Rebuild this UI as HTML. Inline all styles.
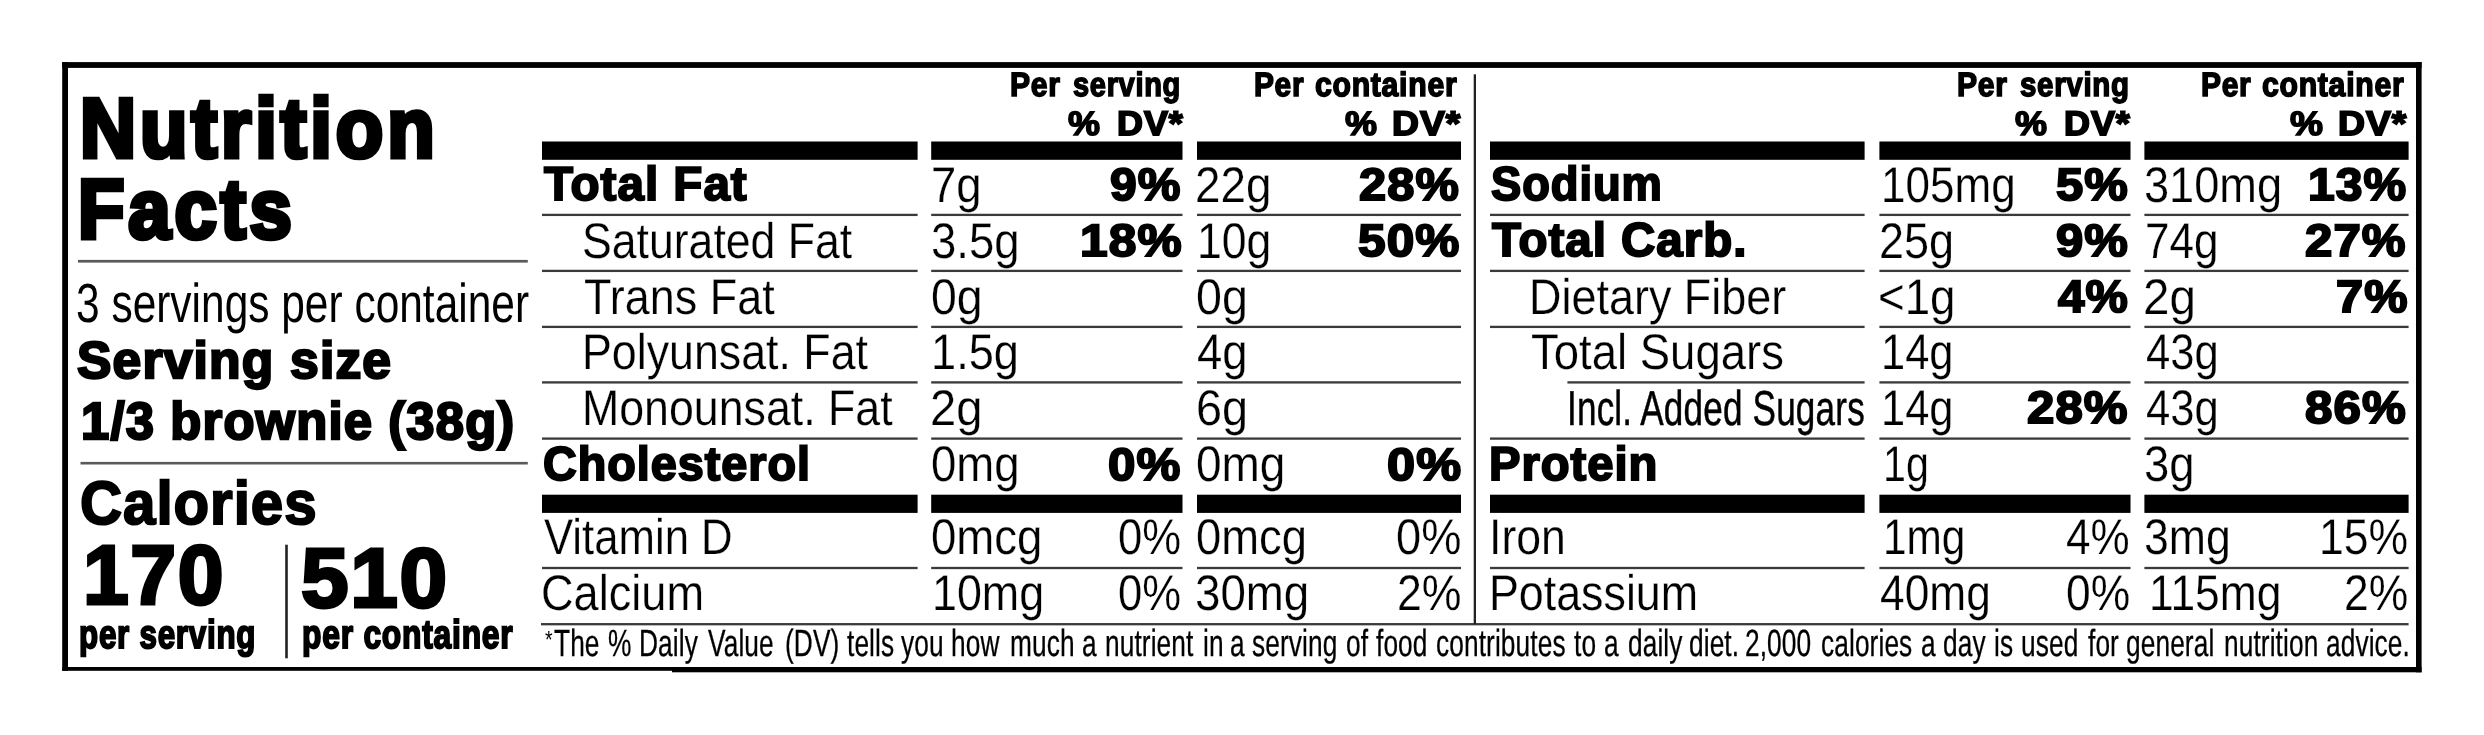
<!DOCTYPE html><html><head><meta charset="utf-8"><title>Nutrition Facts</title><style>
html,body{margin:0;padding:0;background:#fff;}
body{width:2484px;height:735px;position:relative;overflow:hidden;font-family:"Liberation Sans",sans-serif;color:#000;}
.t{position:absolute;white-space:pre;line-height:1;transform-origin:0 0;letter-spacing:0;text-rendering:geometricPrecision;}
.r{position:absolute;}
body{will-change:transform}
.L{font-size:50.08px;font-weight:400;-webkit-text-stroke:0.25px #fff;}
.K{font-size:47.66px;font-weight:700;-webkit-text-stroke:2.0px #000;letter-spacing:1.00px;}
.KP{font-size:45.36px;font-weight:700;-webkit-text-stroke:2.0px #000;letter-spacing:1.00px;}
.T{font-size:83.88px;font-weight:700;-webkit-text-stroke:5.0px #000;letter-spacing:4.20px;}
.S{font-size:55.0px;font-weight:400;}
.SS{font-size:51.86px;font-weight:700;-webkit-text-stroke:2.4px #000;letter-spacing:1.20px;}
.SB{font-size:52.36px;font-weight:700;-webkit-text-stroke:2.4px #000;letter-spacing:1.20px;}
.C{font-size:61.09px;font-weight:700;-webkit-text-stroke:2.0px #000;letter-spacing:1.00px;}
.N{font-size:84.06px;font-weight:700;-webkit-text-stroke:3.2px #000;letter-spacing:1.60px;}
.P{font-size:40.18px;font-weight:700;-webkit-text-stroke:2.0px #000;letter-spacing:1.00px;}
.H{font-size:33.78px;font-weight:700;-webkit-text-stroke:1.6px #000;letter-spacing:0.80px;}
.HK{font-size:34.33px;font-weight:700;-webkit-text-stroke:1.8px #000;letter-spacing:0.90px;}
.F{font-size:37.8px;font-weight:400;-webkit-text-stroke:0.3px #000;letter-spacing:0.15px;}
.FA{font-size:24.86px;font-weight:400;}
.LI{font-size:49.0px;font-weight:400;-webkit-text-stroke:0.5px #000;letter-spacing:0.25px;}
</style></head><body>
<svg class="r" style="left:0;top:0" width="2484" height="735" viewBox="0 0 2484 735">
<rect x="62.20" y="62.10" width="2359.40" height="5.80" fill="#000"/>
<rect x="62.20" y="62.10" width="5.80" height="608.70" fill="#000"/>
<rect x="2416.00" y="62.10" width="5.60" height="610.20" fill="#000"/>
<rect x="62.20" y="667.00" width="611.80" height="3.80" fill="#000"/>
<rect x="672.00" y="667.00" width="1749.60" height="5.30" fill="#000"/>
<rect x="542.00" y="141.50" width="375.60" height="18.30" fill="#000"/>
<rect x="542.00" y="494.70" width="375.60" height="18.20" fill="#000"/>
<rect x="542.00" y="213.75" width="375.60" height="2.30" fill="#3a3a3a"/>
<rect x="542.00" y="269.75" width="375.60" height="2.30" fill="#3a3a3a"/>
<rect x="542.00" y="325.75" width="375.60" height="2.30" fill="#3a3a3a"/>
<rect x="542.00" y="381.25" width="375.60" height="2.30" fill="#3a3a3a"/>
<rect x="542.00" y="437.45" width="375.60" height="2.30" fill="#3a3a3a"/>
<rect x="542.00" y="566.85" width="375.60" height="2.30" fill="#3a3a3a"/>
<rect x="931.20" y="141.50" width="251.30" height="18.30" fill="#000"/>
<rect x="931.20" y="494.70" width="251.30" height="18.20" fill="#000"/>
<rect x="931.20" y="213.75" width="251.30" height="2.30" fill="#3a3a3a"/>
<rect x="931.20" y="269.75" width="251.30" height="2.30" fill="#3a3a3a"/>
<rect x="931.20" y="325.75" width="251.30" height="2.30" fill="#3a3a3a"/>
<rect x="931.20" y="381.25" width="251.30" height="2.30" fill="#3a3a3a"/>
<rect x="931.20" y="437.45" width="251.30" height="2.30" fill="#3a3a3a"/>
<rect x="931.20" y="566.85" width="251.30" height="2.30" fill="#3a3a3a"/>
<rect x="1197.00" y="141.50" width="264.00" height="18.30" fill="#000"/>
<rect x="1197.00" y="494.70" width="264.00" height="18.20" fill="#000"/>
<rect x="1197.00" y="213.75" width="264.00" height="2.30" fill="#3a3a3a"/>
<rect x="1197.00" y="269.75" width="264.00" height="2.30" fill="#3a3a3a"/>
<rect x="1197.00" y="325.75" width="264.00" height="2.30" fill="#3a3a3a"/>
<rect x="1197.00" y="381.25" width="264.00" height="2.30" fill="#3a3a3a"/>
<rect x="1197.00" y="437.45" width="264.00" height="2.30" fill="#3a3a3a"/>
<rect x="1197.00" y="566.85" width="264.00" height="2.30" fill="#3a3a3a"/>
<rect x="1490.00" y="141.50" width="374.60" height="18.30" fill="#000"/>
<rect x="1490.00" y="494.70" width="374.60" height="18.20" fill="#000"/>
<rect x="1490.00" y="213.75" width="374.60" height="2.30" fill="#3a3a3a"/>
<rect x="1490.00" y="269.75" width="374.60" height="2.30" fill="#3a3a3a"/>
<rect x="1490.00" y="325.75" width="374.60" height="2.30" fill="#3a3a3a"/>
<rect x="1567.40" y="381.25" width="297.20" height="2.30" fill="#3a3a3a"/>
<rect x="1490.00" y="437.45" width="374.60" height="2.30" fill="#3a3a3a"/>
<rect x="1490.00" y="566.85" width="374.60" height="2.30" fill="#3a3a3a"/>
<rect x="1879.40" y="141.50" width="251.10" height="18.30" fill="#000"/>
<rect x="1879.40" y="494.70" width="251.10" height="18.20" fill="#000"/>
<rect x="1879.40" y="213.75" width="251.10" height="2.30" fill="#3a3a3a"/>
<rect x="1879.40" y="269.75" width="251.10" height="2.30" fill="#3a3a3a"/>
<rect x="1879.40" y="325.75" width="251.10" height="2.30" fill="#3a3a3a"/>
<rect x="1879.40" y="381.25" width="251.10" height="2.30" fill="#3a3a3a"/>
<rect x="1879.40" y="437.45" width="251.10" height="2.30" fill="#3a3a3a"/>
<rect x="1879.40" y="566.85" width="251.10" height="2.30" fill="#3a3a3a"/>
<rect x="2144.40" y="141.50" width="264.20" height="18.30" fill="#000"/>
<rect x="2144.40" y="494.70" width="264.20" height="18.20" fill="#000"/>
<rect x="2144.40" y="213.75" width="264.20" height="2.30" fill="#3a3a3a"/>
<rect x="2144.40" y="269.75" width="264.20" height="2.30" fill="#3a3a3a"/>
<rect x="2144.40" y="325.75" width="264.20" height="2.30" fill="#3a3a3a"/>
<rect x="2144.40" y="381.25" width="264.20" height="2.30" fill="#3a3a3a"/>
<rect x="2144.40" y="437.45" width="264.20" height="2.30" fill="#3a3a3a"/>
<rect x="2144.40" y="566.85" width="264.20" height="2.30" fill="#3a3a3a"/>
<rect x="541.00" y="623.05" width="1867.60" height="2.30" fill="#3a3a3a"/>
<rect x="1473.70" y="74.30" width="2.30" height="549.90" fill="#222"/>
<rect x="78.00" y="259.90" width="449.80" height="2.70" fill="#5a5a5a"/>
<rect x="80.50" y="461.90" width="447.30" height="2.60" fill="#5a5a5a"/>
<rect x="285.20" y="544.70" width="2.60" height="113.60" fill="#222"/>
</svg>
<span class="t T" style="left:79.63px;top:87.00px;transform:scale(0.9258,1.0000)">Nutrition</span>
<span class="t T" style="left:77.88px;top:168.00px;transform:scale(0.9068,1.0000)">Facts</span>
<span class="t S" style="left:75.73px;top:276.00px;transform:scale(0.7718,1.0000)">3 servings per container</span>
<span class="t SS" style="left:77.10px;top:335.00px;transform:scale(0.9943,1.0000)">Serving size</span>
<span class="t SB" style="left:81.30px;top:396.00px;transform:scale(0.9694,1.0000)">1/3 brownie (38g)</span>
<span class="t C" style="left:80.00px;top:473.00px;transform:scale(0.9539,1.0000)">Calories</span>
<span class="t N" style="left:83.38px;top:533.00px;transform:scale(0.9793,1.0000)">170</span>
<span class="t N" style="left:301.39px;top:536.00px;transform:scale(1.0186,1.0000)">510</span>
<span class="t P" style="left:78.50px;top:615.00px;transform:scale(0.7789,1.0000)">per serving</span>
<span class="t P" style="left:301.50px;top:615.00px;transform:scale(0.7906,1.0000)">per container</span>
<span class="t K" style="left:544.46px;top:161.00px;transform:scale(0.9984,1.0000)">Total Fat</span>
<span class="t L" style="left:931.47px;top:160.00px;transform:scale(0.9085,1.0000)">7g</span>
<span class="t KP" style="left:1110.36px;top:162.00px;transform:scale(1.0574,1.0000)">9%</span>
<span class="t L" style="left:1195.49px;top:160.00px;transform:scale(0.9141,1.0000)">22g</span>
<span class="t KP" style="left:1359.38px;top:162.00px;transform:scale(1.0751,1.0000)">28%</span>
<span class="t L" style="left:582.48px;top:216.00px;transform:scale(0.8907,1.0000)">Saturated Fat</span>
<span class="t L" style="left:930.68px;top:216.00px;transform:scale(0.9080,1.0000)">3.5g</span>
<span class="t KP" style="left:1079.60px;top:218.00px;transform:scale(1.0951,1.0000)">18%</span>
<span class="t L" style="left:1197.13px;top:216.00px;transform:scale(0.8893,1.0000)">10g</span>
<span class="t KP" style="left:1357.60px;top:218.00px;transform:scale(1.0925,1.0000)">50%</span>
<span class="t L" style="left:583.50px;top:272.00px;transform:scale(0.8974,1.0000)">Trans Fat</span>
<span class="t L" style="left:930.73px;top:272.00px;transform:scale(0.9268,1.0000)">0g</span>
<span class="t L" style="left:1195.92px;top:272.00px;transform:scale(0.9306,1.0000)">0g</span>
<span class="t L" style="left:581.73px;top:327.00px;transform:scale(0.8933,1.0000)">Polyunsat. Fat</span>
<span class="t L" style="left:931.39px;top:327.00px;transform:scale(0.9028,1.0000)">1.5g</span>
<span class="t L" style="left:1197.40px;top:327.00px;transform:scale(0.9072,1.0000)">4g</span>
<span class="t L" style="left:582.24px;top:383.00px;transform:scale(0.8928,1.0000)">Monounsat. Fat</span>
<span class="t L" style="left:930.04px;top:383.00px;transform:scale(0.9420,1.0000)">2g</span>
<span class="t L" style="left:1195.82px;top:383.00px;transform:scale(0.9355,1.0000)">6g</span>
<span class="t K" style="left:542.75px;top:441.00px;transform:scale(0.9810,1.0000)">Cholesterol</span>
<span class="t L" style="left:930.76px;top:439.00px;transform:scale(0.9087,1.0000)">0mg</span>
<span class="t KP" style="left:1108.33px;top:442.00px;transform:scale(1.0865,1.0000)">0%</span>
<span class="t L" style="left:1195.94px;top:439.00px;transform:scale(0.9180,1.0000)">0mg</span>
<span class="t KP" style="left:1386.61px;top:442.00px;transform:scale(1.1112,1.0000)">0%</span>
<span class="t L" style="left:544.30px;top:512.00px;transform:scale(0.8727,1.0000)">Vitamin D</span>
<span class="t L" style="left:930.75px;top:512.00px;transform:scale(0.9099,1.0000)">0mcg</span>
<span class="t L" style="left:1118.21px;top:512.00px;transform:scale(0.8712,1.0000)">0%</span>
<span class="t L" style="left:1195.96px;top:512.00px;transform:scale(0.9061,1.0000)">0mcg</span>
<span class="t L" style="left:1396.46px;top:512.00px;transform:scale(0.9024,1.0000)">0%</span>
<span class="t L" style="left:541.18px;top:568.00px;transform:scale(0.9016,1.0000)">Calcium</span>
<span class="t L" style="left:932.01px;top:568.00px;transform:scale(0.8952,1.0000)">10mg</span>
<span class="t L" style="left:1118.21px;top:568.00px;transform:scale(0.8712,1.0000)">0%</span>
<span class="t L" style="left:1194.97px;top:568.00px;transform:scale(0.9123,1.0000)">30mg</span>
<span class="t L" style="left:1396.90px;top:568.00px;transform:scale(0.8916,1.0000)">2%</span>
<span class="t K" style="left:1490.50px;top:161.00px;transform:scale(0.9509,1.0000)">Sodium</span>
<span class="t L" style="left:1881.46px;top:160.00px;transform:scale(0.8792,1.0000)">105mg</span>
<span class="t KP" style="left:2056.00px;top:162.00px;transform:scale(1.0789,1.0000)">5%</span>
<span class="t L" style="left:2143.58px;top:160.00px;transform:scale(0.9020,1.0000)">310mg</span>
<span class="t KP" style="left:2308.04px;top:162.00px;transform:scale(1.0580,1.0000)">13%</span>
<span class="t K" style="left:1491.86px;top:217.00px;transform:scale(0.9964,1.0000)">Total Carb.</span>
<span class="t L" style="left:1878.70px;top:216.00px;transform:scale(0.8981,1.0000)">25g</span>
<span class="t KP" style="left:2056.34px;top:218.00px;transform:scale(1.0796,1.0000)">9%</span>
<span class="t L" style="left:2144.90px;top:216.00px;transform:scale(0.8796,1.0000)">74g</span>
<span class="t KP" style="left:2304.87px;top:218.00px;transform:scale(1.0837,1.0000)">27%</span>
<span class="t L" style="left:1528.62px;top:272.00px;transform:scale(0.8976,1.0000)">Dietary Fiber</span>
<span class="t L" style="left:1877.60px;top:272.00px;transform:scale(0.9119,1.0000)">&lt;1g</span>
<span class="t KP" style="left:2058.33px;top:274.00px;transform:scale(1.0493,1.0000)">4%</span>
<span class="t L" style="left:2142.82px;top:272.00px;transform:scale(0.9502,1.0000)">2g</span>
<span class="t KP" style="left:2336.00px;top:274.00px;transform:scale(1.0735,1.0000)">7%</span>
<span class="t L" style="left:1530.50px;top:327.00px;transform:scale(0.9086,1.0000)">Total Sugars</span>
<span class="t L" style="left:1880.99px;top:327.00px;transform:scale(0.8676,1.0000)">14g</span>
<span class="t L" style="left:2145.90px;top:327.00px;transform:scale(0.8713,1.0000)">43g</span>
<span class="t LI" style="left:1566.80px;top:385.00px;transform:scale(0.7163,1.0000)">Incl. Added Sugars</span>
<span class="t L" style="left:1880.99px;top:383.00px;transform:scale(0.8676,1.0000)">14g</span>
<span class="t KP" style="left:2027.37px;top:385.00px;transform:scale(1.0833,1.0000)">28%</span>
<span class="t L" style="left:2145.90px;top:383.00px;transform:scale(0.8713,1.0000)">43g</span>
<span class="t KP" style="left:2304.98px;top:385.00px;transform:scale(1.0854,1.0000)">86%</span>
<span class="t K" style="left:1489.40px;top:441.00px;transform:scale(0.9898,1.0000)">Protein</span>
<span class="t L" style="left:1882.60px;top:439.00px;transform:scale(0.8237,1.0000)">1g</span>
<span class="t L" style="left:2144.08px;top:439.00px;transform:scale(0.9059,1.0000)">3g</span>
<span class="t L" style="left:1488.60px;top:512.00px;transform:scale(0.8902,1.0000)">Iron</span>
<span class="t L" style="left:1882.60px;top:512.00px;transform:scale(0.8459,1.0000)">1mg</span>
<span class="t L" style="left:2066.00px;top:512.00px;transform:scale(0.8785,1.0000)">4%</span>
<span class="t L" style="left:2144.09px;top:512.00px;transform:scale(0.8908,1.0000)">3mg</span>
<span class="t L" style="left:2319.03px;top:512.00px;transform:scale(0.8887,1.0000)">15%</span>
<span class="t L" style="left:1488.83px;top:568.00px;transform:scale(0.8941,1.0000)">Potassium</span>
<span class="t L" style="left:1880.20px;top:568.00px;transform:scale(0.8842,1.0000)">40mg</span>
<span class="t L" style="left:2065.68px;top:568.00px;transform:scale(0.8860,1.0000)">0%</span>
<span class="t L" style="left:2149.24px;top:568.00px;transform:scale(0.8860,1.0000)">115mg</span>
<span class="t L" style="left:2343.90px;top:568.00px;transform:scale(0.8866,1.0000)">2%</span>
<span class="t H" style="left:1010.00px;top:69.00px;transform:scale(0.8911,1.0000)">Per</span>
<span class="t H" style="left:1073.30px;top:69.00px;transform:scale(0.8591,1.0000)">serving</span>
<span class="t H" style="left:1068.00px;top:108.00px;transform:scale(1.0667,1.0000)">%</span>
<span class="t HK" style="left:1117.40px;top:107.00px;transform:scale(1.0476,1.0000)">DV*</span>
<span class="t H" style="left:1254.20px;top:69.00px;transform:scale(0.8842,1.0000)">Per</span>
<span class="t H" style="left:1315.09px;top:69.00px;transform:scale(0.8944,1.0000)">container</span>
<span class="t H" style="left:1345.00px;top:108.00px;transform:scale(1.0667,1.0000)">%</span>
<span class="t HK" style="left:1391.67px;top:107.00px;transform:scale(1.0858,1.0000)">DV*</span>
<span class="t H" style="left:1956.50px;top:69.00px;transform:scale(0.8911,1.0000)">Per</span>
<span class="t H" style="left:2019.80px;top:69.00px;transform:scale(0.8729,1.0000)">serving</span>
<span class="t H" style="left:2015.00px;top:108.00px;transform:scale(1.0667,1.0000)">%</span>
<span class="t HK" style="left:2064.00px;top:107.00px;transform:scale(1.0476,1.0000)">DV*</span>
<span class="t H" style="left:2201.00px;top:69.00px;transform:scale(0.8868,1.0000)">Per</span>
<span class="t H" style="left:2261.79px;top:69.00px;transform:scale(0.8946,1.0000)">container</span>
<span class="t H" style="left:2290.00px;top:108.00px;transform:scale(1.1000,1.0000)">%</span>
<span class="t HK" style="left:2337.97px;top:107.00px;transform:scale(1.0885,1.0000)">DV*</span>
<span class="t F" style="left:554.15px;top:626.00px;transform:scale(0.6949,1.0000)">The</span>
<span class="t F" style="left:607.78px;top:626.00px;transform:scale(0.6949,1.0000)">%</span>
<span class="t F" style="left:639.45px;top:626.00px;transform:scale(0.6949,1.0000)">Daily</span>
<span class="t F" style="left:707.90px;top:626.00px;transform:scale(0.6949,1.0000)">Value</span>
<span class="t F" style="left:785.44px;top:626.00px;transform:scale(0.6949,1.0000)">(DV)</span>
<span class="t F" style="left:846.59px;top:626.00px;transform:scale(0.6949,1.0000)">tells</span>
<span class="t F" style="left:901.46px;top:626.00px;transform:scale(0.6949,1.0000)">you</span>
<span class="t F" style="left:950.88px;top:626.00px;transform:scale(0.6949,1.0000)">how</span>
<span class="t F" style="left:1009.60px;top:626.00px;transform:scale(0.6949,1.0000)">much</span>
<span class="t F" style="left:1082.35px;top:626.00px;transform:scale(0.6949,1.0000)">a</span>
<span class="t F" style="left:1105.41px;top:626.00px;transform:scale(0.6949,1.0000)">nutrient</span>
<span class="t F" style="left:1202.51px;top:626.00px;transform:scale(0.6949,1.0000)">in</span>
<span class="t F" style="left:1230.25px;top:626.00px;transform:scale(0.6949,1.0000)">a</span>
<span class="t F" style="left:1252.35px;top:626.00px;transform:scale(0.6949,1.0000)">serving</span>
<span class="t F" style="left:1346.06px;top:626.00px;transform:scale(0.6949,1.0000)">of</span>
<span class="t F" style="left:1375.80px;top:626.00px;transform:scale(0.6949,1.0000)">food</span>
<span class="t F" style="left:1435.60px;top:626.00px;transform:scale(0.6949,1.0000)">contributes</span>
<span class="t F" style="left:1573.71px;top:626.00px;transform:scale(0.6949,1.0000)">to</span>
<span class="t F" style="left:1603.75px;top:626.00px;transform:scale(0.6949,1.0000)">a</span>
<span class="t F" style="left:1627.73px;top:626.00px;transform:scale(0.6949,1.0000)">daily</span>
<span class="t F" style="left:1689.20px;top:626.00px;transform:scale(0.6949,1.0000)">diet.</span>
<span class="t F" style="left:1745.48px;top:626.00px;transform:scale(0.6949,1.0000)">2,000</span>
<span class="t F" style="left:1820.94px;top:626.00px;transform:scale(0.6949,1.0000)">calories</span>
<span class="t F" style="left:1921.00px;top:626.00px;transform:scale(0.6949,1.0000)">a</span>
<span class="t F" style="left:1943.20px;top:626.00px;transform:scale(0.6949,1.0000)">day</span>
<span class="t F" style="left:1994.15px;top:626.00px;transform:scale(0.6949,1.0000)">is</span>
<span class="t F" style="left:2020.69px;top:626.00px;transform:scale(0.6949,1.0000)">used</span>
<span class="t F" style="left:2087.51px;top:626.00px;transform:scale(0.6949,1.0000)">for</span>
<span class="t F" style="left:2126.35px;top:626.00px;transform:scale(0.6949,1.0000)">general</span>
<span class="t F" style="left:2223.81px;top:626.00px;transform:scale(0.6949,1.0000)">nutrition</span>
<span class="t F" style="left:2325.95px;top:626.00px;transform:scale(0.6949,1.0000)">advice.</span>
<span class="t FA" style="left:544.90px;top:628.00px;transform:scale(0.7826,1.0000)">*</span>
</body></html>
